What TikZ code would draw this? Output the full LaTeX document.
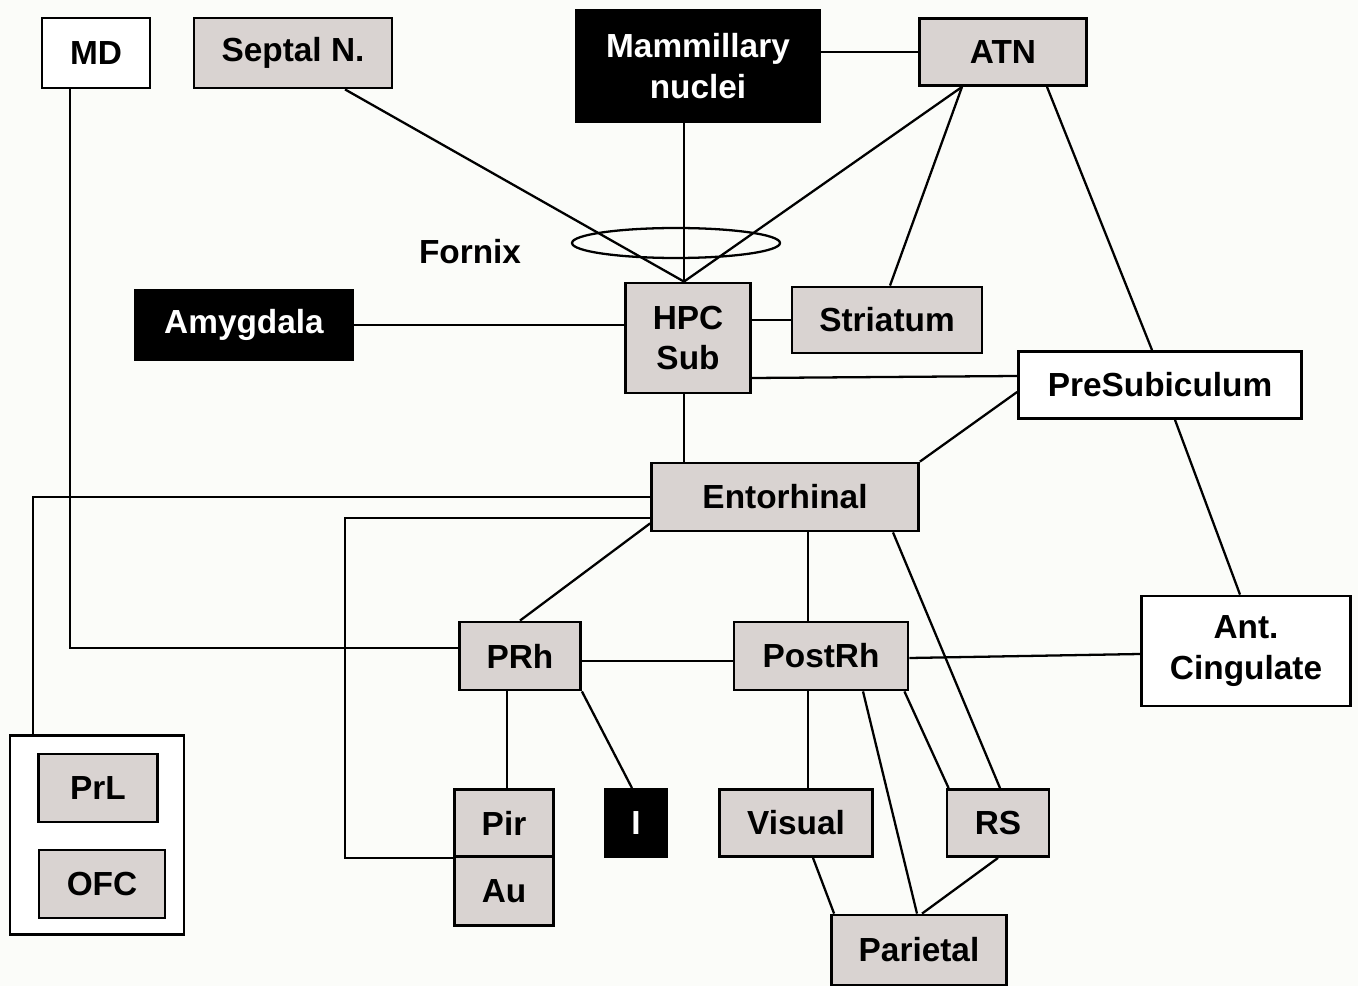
\documentclass[tikz,border=0pt]{standalone}
\usepackage{fontspec}
\setmainfont{Liberation Sans}
\usepackage{tikz}
\usetikzlibrary{arrows.meta, positioning, calc, shapes.geometric}
\definecolor{boxgray}{RGB}{217,211,209}
\definecolor{paper}{RGB}{251,252,249}
\tikzset{
	area/.style 2 args={draw, line width=1.6pt, fill=boxgray, inner sep=0pt, align=center,
		minimum width=#1*0.02cm, minimum height=#2*0.02cm,
		font=\fontsize{19}{23}\selectfont\bfseries},
	dark/.style={fill=black, text=white},
	open/.style={fill=white},
	link/.style={line width=1.3pt}
}

\begin{document}
\begin{tikzpicture}[x=0.02cm, y=-0.02cm]
				\fill[paper] (0, 0) rectangle (1358, 986);
				\useasboundingbox (0, 0) rectangle (1358, 986);

				\node[area={108}{70}, open] (md) at (96, 53) {MD};
				\node[area={198}{70}] (sep) at (293, 53) {Septal N.};
				\node[area={243}{112}, dark] (mam) at (698, 66) {Mammillary\\nuclei};
				\node[area={167}{67}] (atn) at (1003, 52) {ATN};
				\node[area={217}{70}, dark] (amy) at (244, 325) {Amygdala};
				\node[area={125}{110}] (hpc) at (688, 338) {HPC\\Sub};
				\node[area={190}{66}] (str) at (887, 320) {Striatum};
				\node[area={283}{67}, open] (pre) at (1160, 385) {PreSubiculum};
				\node[area={267}{68}] (ent) at (785, 497) {Entorhinal};
				\node[area={121}{68}] (prh) at (520, 656) {PRh};
				\node[area={174}{68}] (post) at (821, 656) {PostRh};
				\node[area={209}{110}, open] (acc) at (1246, 651) {Ant.\\Cingulate};
				\node[area={174}{199}, open] (pfc) at (97, 835) {};
				\node[area={119}{68}] (prl) at (98, 788) {PrL};
				\node[area={126}{68}] (ofc) at (102, 884) {OFC};
				\node[area={99}{67}] (pir) at (504, 823) {Pir};
				\node[area={99}{69}] (au) at (504, 891) {Au};
				\node[area={61}{67}, dark] (ins) at (636, 823) {I};
				\node[area={153}{67}] (vis) at (796, 823) {Visual};
				\node[area={102}{67}] (rs) at (998, 823) {RS};
				\node[area={175}{70}] (par) at (919, 950) {Parietal};

				\node[font=\fontsize{19}{23}\selectfont\bfseries] (fxlabel) at (470, 252) {Fornix};
				\node[draw, ellipse, line width=1.3pt, minimum width=4.16cm, minimum height=0.6cm] (fx) at (676, 243) {};

				\coordinate (hpctop) at ($(hpc.north)+(-4,0)$);
				\coordinate (atnl) at ($(atn.south)+(-41,0)$);

				\draw[link] ($(md.south)+(-26,0)$) |- ($(prh.west)+(0,-8)$);
				\draw[link] ($(sep.south)+(52,0)$) -- (hpctop);
				\draw[link] (mam.south -| hpctop) -- (hpctop);
				\draw[link] (atn.west) -- (atn.west -| mam.east);
				\draw[link] (atnl) -- (hpctop);
				\draw[link] (atnl) -- ($(str.north)+(3,0)$);
				\draw[link] ($(atn.south)+(44,0)$) -- ($(pre.north)+(-8,0)$);
				\draw[link] (amy.east) -- (amy.east -| hpc.west);
				\draw[link] (str.west) -- (str.west -| hpc.east);
				\draw[link] ($(hpc.east)+(0,40)$) -- ($(pre.west)+(0,-9)$);
				\draw[link] ($(pre.west)+(0,7)$) -- (ent.north east);
				\draw[link] ($(pre.south)+(15,0)$) -- ($(acc.north)+(-6,0)$);
				\draw[link] (hpc.south -| hpctop) -- (ent.north -| hpctop);
				\draw[link] (ent.west) -| ($(pfc.north)+(-64,0)$);
				\draw[link] ($(ent.west)+(0,21)$) -| ($(pir.south west)+(-108,0)$) -- (pir.south west);
				\draw[link] ($(ent.south west)+(0,-9)$) -- (prh.north);
				\draw[link] ($(ent.south)+(23,0)$) -- ($(post.north)+(-13,0)$);
				\draw[link] ($(ent.south)+(108,0)$) -- ($(rs.north)+(2,0)$);
				\draw[link] ($(prh.east)+(0,5)$) -- ($(post.west)+(0,5)$);
				\draw[link] ($(prh.south)+(-13,0)$) -- ($(pir.north)+(3,0)$);
				\draw[link] (prh.south east) -- ($(ins.north)+(-4,0)$);
				\draw[link] ($(post.east)+(0,2)$) -- ($(acc.west)+(0,3)$);
				\draw[link] ($(post.south)+(-13,0)$) -- ($(vis.north)+(12,0)$);
				\draw[link] ($(post.south)+(42,0)$) -- ($(par.north)+(-2,0)$);
				\draw[link] ($(post.south east)+(-5,0)$) -- ($(rs.north west)+(3,0)$);
				\draw[link] ($(vis.south)+(17,0)$) -- ($(par.north west)+(4,0)$);
				\draw[link] (rs.south) -- ($(par.north)+(3,0)$);
			\end{tikzpicture}
\end{document}
